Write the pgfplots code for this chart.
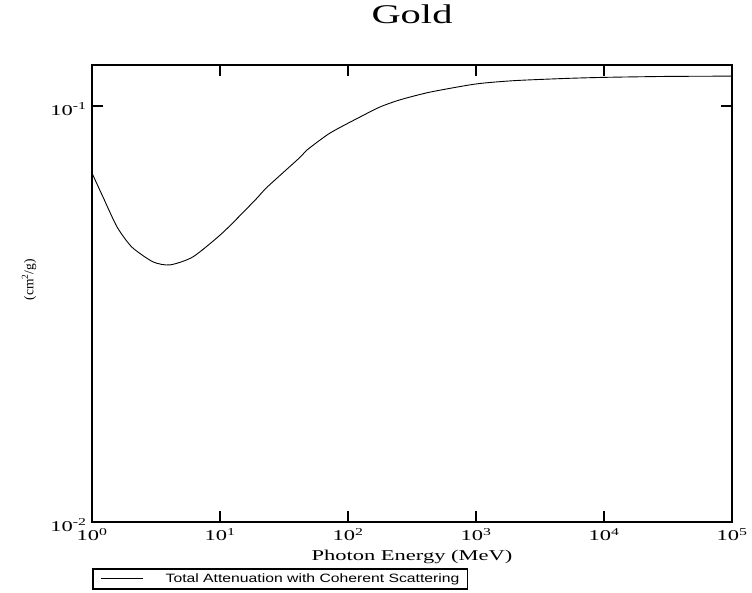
\documentclass[border=0pt]{standalone}
\usepackage{fontspec}
\setmainfont{Liberation Serif}[FakeStretch=1.5]
\newfontfamily\plainserif{Liberation Serif}
\newfontfamily\legfont{Liberation Sans}[FakeStretch=1.3]
\usepackage{pgfplots}
\pgfplotsset{compat=1.18}
\begin{document}
\begin{tikzpicture}
\path[use as bounding box] (0pt,0pt) rectangle (752pt,593pt);
\begin{axis}[
  at={(92pt,71pt)}, anchor=south west,
  scale only axis, width=640pt, height=457pt,
  xmode=log, ymode=log,
  xmin=1, xmax=1e5, ymin=0.01, ymax=0.1255,
  xtick={1,10,100,1000,10000,100000},
  xticklabels={10\textsuperscript{0},10\textsuperscript{1},10\textsuperscript{2},10\textsuperscript{3},10\textsuperscript{4},10\textsuperscript{5}},
  ytick={0.01,0.1},
  yticklabels={10\textsuperscript{-2},10\textsuperscript{-1}},
  xminorticks=false, yminorticks=false,
  tick align=inside, major tick length=11pt,
  axis line style={line width=2pt},
  tick style={black, line width=1.4pt},
  tick label style={font=\fontsize{15}{17}\selectfont},
  xticklabel style={anchor=north, yshift=-3pt},
  yticklabel style={anchor=east, yshift=-3pt, xshift=-2pt},
  title={Gold},
  title style={font=\fontsize{27}{30}\selectfont, at={(axis description cs:0.5,1.098)}, anchor=center},
  xlabel={Photon Energy (MeV)},
  xlabel style={font=\fontsize{15}{17}\selectfont, at={(axis description cs:0.5,-0.0755)}, anchor=center},
  ylabel={(cm\textsuperscript{2}/g)},
  ylabel style={font=\plainserif\fontsize{13.5}{15}\selectfont, at={(axis description cs:-0.0984,0.53)}, anchor=center},
  legend image code/.code={\draw[#1] (0pt,0pt) -- (42pt,0pt);},
  legend style={at={(axis description cs:0,-0.1007)}, anchor=north west, draw=black, line width=1.5pt,
    font=\legfont\fontsize{12.1}{14}\selectfont, inner xsep=8pt, inner ysep=3pt,
    nodes={inner xsep=0pt},
    /tikz/every odd column/.style={column sep=22pt}},
  legend cell align=left,
  clip=false,
]
\addplot[black, line width=0.9pt, smooth, tension=0.4] coordinates {
(1,0.0690) (1.22,0.0604) (1.57,0.0512) (2.05,0.0458) (3.0,0.0422) (4.07,0.0415)
(6.15,0.0434) (10.5,0.0496) (18.8,0.0594) (23.3,0.0638) (42.2,0.0753) (47.8,0.0784)
(72.3,0.0861) (124,0.0941) (178,0.0995) (255,0.1035) (437,0.1080) (1000,0.1130)
(2000,0.1151) (5000,0.1165) (10000,0.1172) (30000,0.1178) (100000,0.1180)
};
\addlegendentry{Total Attenuation with Coherent Scattering}
\pgfplotsinvokeforeach{0.2,0.4,0.6,0.8}{
  \draw[black, line width=1.4pt] (rel axis cs:#1,0) -- ++(0pt,11pt);
  \draw[black, line width=1.4pt] (rel axis cs:#1,1) -- ++(0pt,-11pt);
}
\draw[black, line width=1.4pt] (axis cs:1,0.1) -- ++(11pt,0pt);
\draw[black, line width=1.4pt] (axis cs:100000,0.1) -- ++(-11pt,0pt);
\end{axis}
\end{tikzpicture}
\end{document}
